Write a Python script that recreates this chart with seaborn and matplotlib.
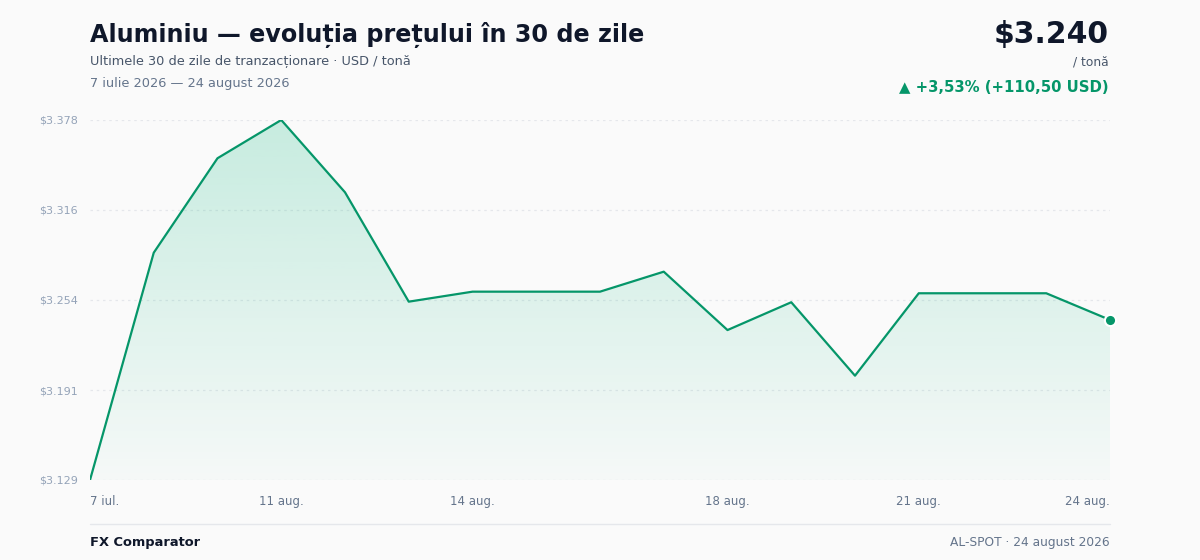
import numpy as np
import pandas as pd
import matplotlib
matplotlib.use("Agg")
import matplotlib.pyplot as plt
import seaborn as sns
from matplotlib.colors import to_rgb

# data
dates = ["7 iul.", "9 aug.", "10 aug.", "11 aug.", "12 aug.", "13 aug.", "14 aug.",
         "15 aug.", "16 aug.", "17 aug.", "18 aug.", "19 aug.", "20 aug.", "21 aug.",
         "22 aug.", "23 aug.", "24 aug."]
prices = [3129.5, 3286.4, 3351.6, 3378.0, 3328.1, 3252.6, 3259.5, 3259.5, 3259.5,
          3273.3, 3233.0, 3252.2, 3201.5, 3258.4, 3258.4, 3258.4, 3240.0]
tick_idx = [0, 3, 6, 10, 13, 16]
y_ticks = [3129.5, 3191.6, 3253.75, 3315.9, 3378.0]
y_labels = ["$3.129", "$3.191", "$3.254", "$3.316", "$3.378"]

df = pd.DataFrame({"i": range(len(dates)), "date": dates, "price": prices})

GREEN = "#059669"
BG = "#fafafa"

sns.set_theme(style="white")
plt.rcParams["font.family"] = ["DejaVu Sans"]

W, H = 1200, 560
fig = plt.figure(figsize=(12, 5.6), dpi=100, facecolor=BG)
ax = fig.add_axes([90 / W, 1 - 480 / H, 1020 / W, 360 / H])
ax.set_facecolor(BG)

ymin, ymax = min(prices), max(prices)
ax.set_xlim(0, len(dates) - 1)
ax.set_ylim(ymin, ymax)

# grid
for t in y_ticks:
    ax.axhline(t, color="#e5e7eb", lw=0.9, ls=(0, (2, 3)), zorder=0)

# gradient fill under the line
poly = ax.fill_between(df["i"], df["price"], ymin, color="none", lw=0)
r, g, b = to_rgb("#10b981")
alpha = np.linspace(0.02, 0.22, 256).reshape(-1, 1)
img = np.zeros((256, 1, 4))
img[..., 0], img[..., 1], img[..., 2] = r, g, b
img[..., 3] = alpha
im = ax.imshow(img, aspect="auto", origin="lower",
               extent=[0, len(dates) - 1, ymin, ymax], zorder=1)
im.set_clip_path(poly.get_paths()[0], transform=ax.transData)

sns.lineplot(data=df, x="i", y="price", color=GREEN, lw=1.6, ax=ax, zorder=3)
ax.scatter([df["i"].iloc[-1]], [df["price"].iloc[-1]], s=65, color=GREEN,
           edgecolor="white", linewidth=1.5, zorder=4, clip_on=False)

for s in ax.spines.values():
    s.set_visible(False)

ax.set_yticks(y_ticks)
ax.set_yticklabels(y_labels, fontsize=8, color="#94a3b8")
ax.set_xticks(tick_idx)
ax.set_xticklabels([dates[i] for i in tick_idx], fontsize=8.5, color="#64748b")
xl = ax.get_xticklabels()
xl[0].set_ha("left")
xl[-1].set_ha("right")
ax.tick_params(axis="both", length=0)
ax.tick_params(axis="y", pad=9)
ax.tick_params(axis="x", pad=11)
ax.set_xlabel("")
ax.set_ylabel("")


def px(x, y):
    return x / W, 1 - y / H


fig.text(*px(90, 42), "Aluminiu — evoluția prețului în 30 de zile", fontsize=17.2,
         fontweight="bold", color="#0f172a", va="baseline")
fig.text(*px(90, 65), "Ultimele 30 de zile de tranzacționare · USD / tonă", fontsize=9.3,
         color="#475569", va="baseline")
fig.text(*px(90, 87.5), "7 iulie 2026 — 24 august 2026", fontsize=9.3,
         color="#64748b", va="baseline")

fig.text(*px(1109, 42.5), "$3.240", fontsize=21.5, fontweight="bold",
         color="#0f172a", va="baseline", ha="right")
fig.text(*px(1109, 65.5), "/ tonă", fontsize=8.8, color="#475569",
         va="baseline", ha="right")
fig.text(*px(1109, 92.5), "▲ +3,53% (+110,50 USD)", fontsize=10.75, fontweight="bold",
         color=GREEN, va="baseline", ha="right")

# footer
fig.add_artist(plt.Line2D([90 / W, 1110 / W], [1 - 524 / H, 1 - 524 / H],
                          color="#e5e7eb", lw=1))
fig.text(*px(90, 546), "FX Comparator", fontsize=9.4, fontweight="bold",
         color="#0f172a", va="baseline")
fig.text(*px(1110, 546), "AL-SPOT · 24 august 2026", fontsize=8.8,
         color="#64748b", va="baseline", ha="right")

fig.savefig("out.png", dpi=100, facecolor=BG)
